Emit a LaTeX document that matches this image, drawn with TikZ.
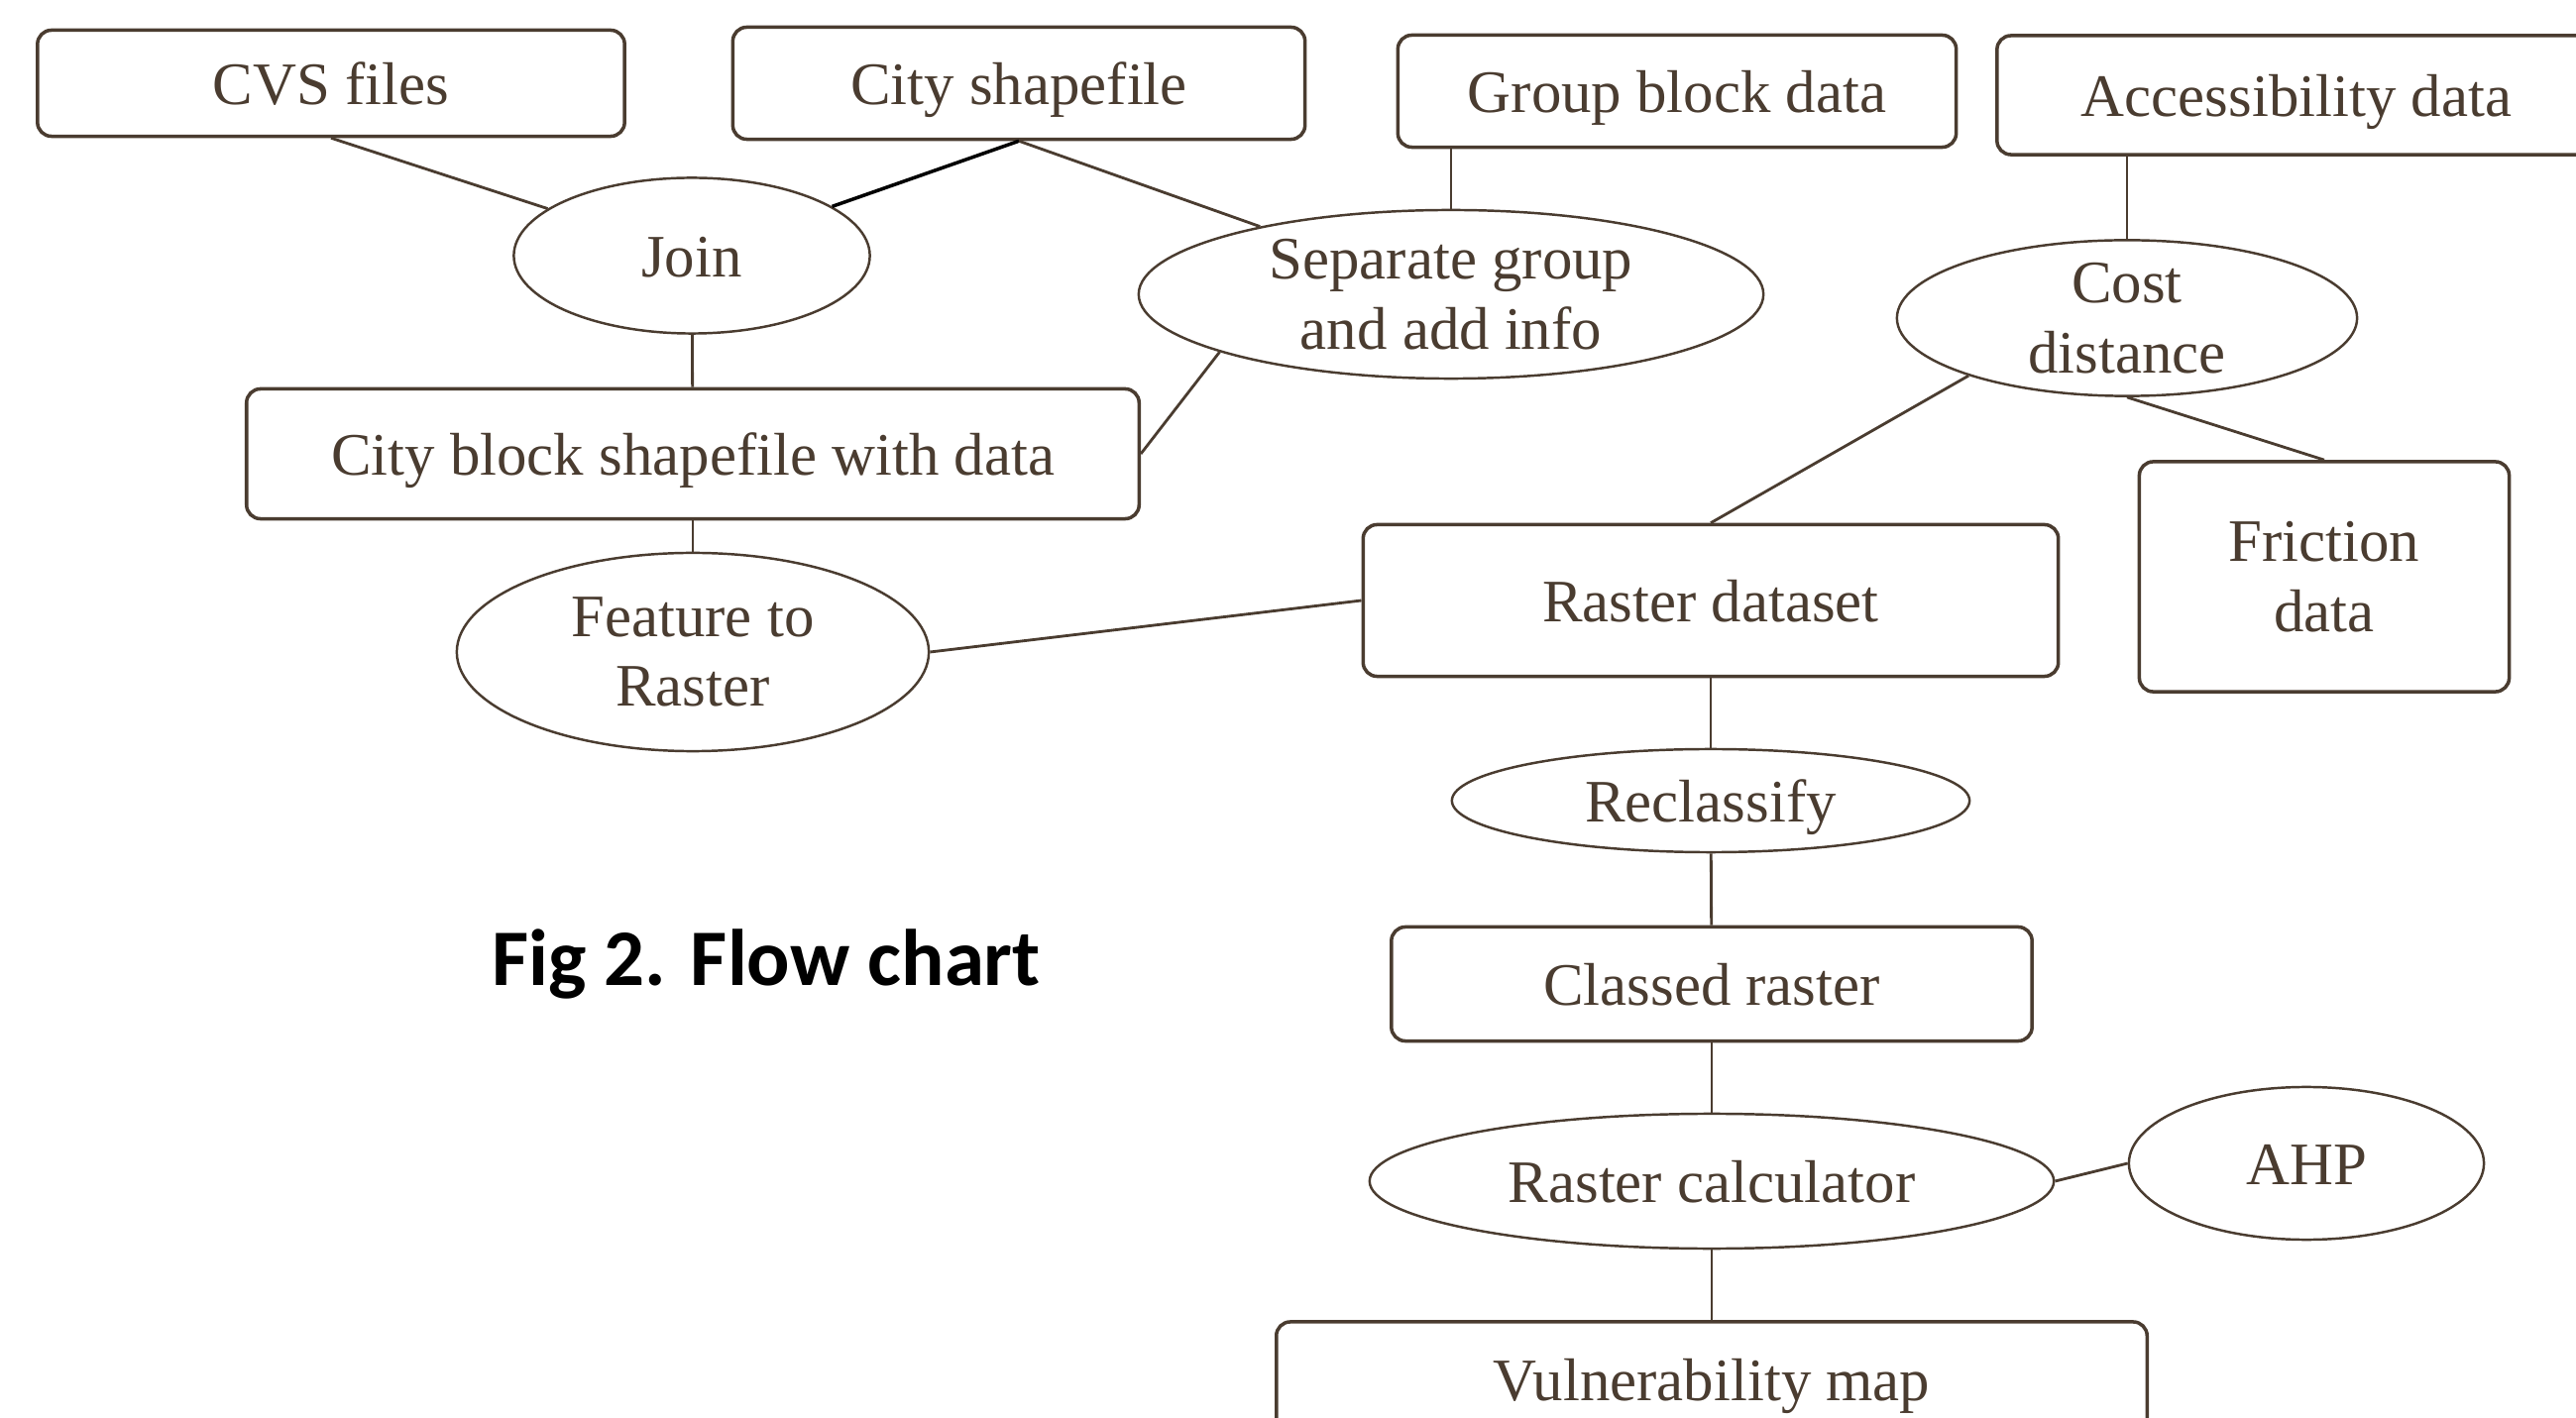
\documentclass[tikz,border=0pt]{standalone}
\usepackage{fontspec}
\setmainfont{Liberation Serif}
\newfontfamily\titlefont{Carlito}
\usepackage{tikz}
\usepackage{xcolor}
\usetikzlibrary{shapes}
\definecolor{ink}{RGB}{74,60,48}
\tikzset{every node/.style={font=\fontsize{17.3}{20}\selectfont, text=ink, align=center},
 box/.style={draw=ink, line width=1pt, rounded corners=4pt, inner sep=0pt},
 oval/.style={draw=ink, line width=0.7pt, ellipse, inner sep=0pt},
 single/.style={text height=12pt, text depth=0pt},
 link/.style={draw=ink, line width=0.8pt},
 }

\begin{document}
\begin{tikzpicture}[x=0.01cm, y=-0.01cm]
        \useasboundingbox (0,0) rectangle (2599,1431);

        \node[box, single, minimum width=5.92cm, minimum height=1.07cm] (cvs) at (334,84) {CVS files};
        \node[box, single, minimum width=5.77cm, minimum height=1.13cm] (cityshp) at (1028,84) {City shapefile};
        \node[box, single, minimum width=5.63cm, minimum height=1.13cm] (group) at (1692,92) {Group block data};
        \node[box, single, minimum width=6.04cm, minimum height=1.20cm] (access) at (2317,96) {Accessibility data};

        \node[oval, single, minimum width=3.59cm, minimum height=1.57cm] (join) at (698,258) {Join};
        \node[oval, minimum width=6.30cm, minimum height=1.70cm] (sep) at (1464,297) {Separate group\\and add info};
        \node[oval, minimum width=4.64cm, minimum height=1.54cm] (cost) at (2146,321) {Cost\\distance};

        \node[box, single, minimum width=9.00cm, minimum height=1.31cm] (cityblk) at (699,458) {City block shapefile with data};
        \node[oval, minimum width=4.76cm, minimum height=2.00cm] (f2r) at (699,658) {Feature to\\Raster};
        \node[box, single, minimum width=7.01cm, minimum height=1.53cm] (raster) at (1726,606) {Raster dataset};
        \node[box, minimum width=3.73cm, minimum height=2.32cm] (friction) at (2345,582) {Friction\\data};

        \node[oval, single, minimum width=5.22cm, minimum height=1.04cm] (reclass) at (1726,808) {Reclassify};
        \node[box, single, minimum width=6.46cm, minimum height=1.15cm] (classed) at (1727,993) {Classed raster};
        \node[oval, single, minimum width=6.90cm, minimum height=1.36cm] (calc) at (1727,1192) {Raster calculator};
        \node[oval, single, minimum width=3.58cm, minimum height=1.54cm] (ahp) at (2327,1174) {AHP};
        \node[box, single, minimum width=8.78cm, minimum height=1.16cm] (vuln) at (1727,1392) {Vulnerability map};

        \node[font={\titlefont\bfseries\fontsize{23}{28}\selectfont}, text=black] (title) at (773,973) {Fig 2. Flow chart};

        \draw[link] (cvs.south) -- (join);
        \draw[link, draw=black, line width=1pt] (cityshp.south) -- (join);
        \draw[link] (cityshp.south) -- (sep);
        \draw[link] (sep.north) -- (sep.north |- group.south);
        \draw[link] (join) -- (cityblk);
        \draw[link] (sep.194) -- (cityblk.east);
        \draw[link] (cityblk) -- (f2r);
        \draw[link] (f2r.east) -- (raster.west);
        \draw[link] (cost.200) -- (raster.north);
        \draw[link] (cost.north) -- (cost.north |- access.south);
        \draw[link] (cost.south) -- (friction.north);
        \foreach \a/\b in {raster/reclass, reclass/classed, classed/calc, calc/vuln} {
            \draw[link] (\a) -- (\b);
        }
        \draw[link] (calc.east) -- (ahp.west);
    \end{tikzpicture}
\end{document}
